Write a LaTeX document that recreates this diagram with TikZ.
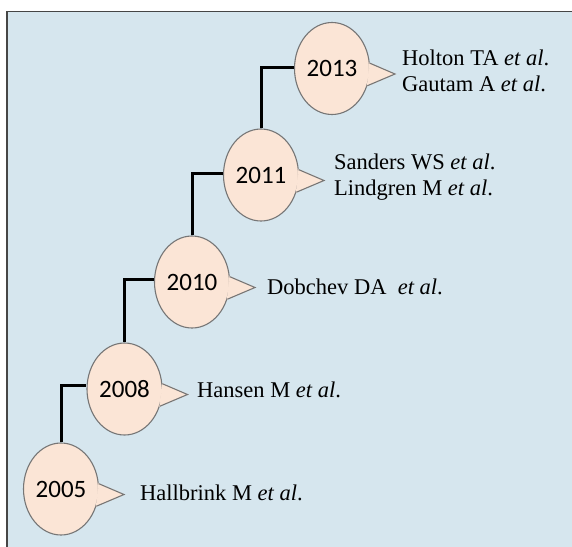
\documentclass[tikz,border=0pt]{standalone}
\usepackage{fontspec}
\setmainfont{Liberation Serif}
\newfontfamily\yearfont{Carlito}
\usetikzlibrary{shapes.geometric,calc}
\definecolor{bgblue}{RGB}{214,230,238}
\definecolor{peach}{RGB}{251,229,214}
\definecolor{rimgray}{RGB}{118,118,118}
\definecolor{framegray}{RGB}{70,70,70}
\tikzset{
  bubble/.style={ellipse, draw=rimgray, line width=1.1pt, fill=peach,
    minimum width=75pt, minimum height=92pt, inner sep=0pt,
    font=\yearfont\fontsize{25}{25}\selectfont},
  conn/.style={line width=3pt, black},
  reftext/.style={anchor=west, align=left, inner sep=0pt,
    font=\fontsize{22.5}{26}\selectfont},
}
\newcommand{\tail}[2]{%
  \coordinate (#2) at ($(#1.center)+(63,5.5)$);
  \fill[peach, draw=peach, line width=0.9pt] (#1.8) -- (#2) -- (#1.-26) -- cycle;
  \draw[rimgray, line width=1.1pt, line join=miter] (#1.8) -- (#2) -- (#1.-26);
}
\begin{document}
\begin{tikzpicture}[x=1pt,y=-1pt]
\useasboundingbox (0,0) rectangle (572,546);
\fill[white] (0,0) rectangle (572,546);
\draw[framegray, line width=1.6pt, fill=bgblue] (7,11.5) rectangle (590,560);

\node[bubble] (b2013) at (332,68.5) {2013};
\node[bubble] (b2011) at (261,175) {2011};
\node[bubble] (b2010) at (192,282) {2010};
\node[bubble] (b2008) at (124.5,389) {2008};
\node[bubble] (b2005) at (61,489) {2005};

\draw[conn] (b2011.north) |- ([yshift=1pt]b2013.west);
\draw[conn] (b2010.north) |- ([yshift=1.5pt]b2011.west);
\draw[conn] (b2008.north) |- ([yshift=2.5pt]b2010.west);
\draw[conn] (b2005.north) |- ([yshift=4pt]b2008.west);

\tail{b2013}{t2013}
\tail{b2011}{t2011}
\tail{b2010}{t2010}
\tail{b2008}{t2008}
\tail{b2005}{t2005}

\node[reftext] (r2013) at (402,70.5) {Holton TA \textit{et al}.\\Gautam A \textit{et al}.};
\node[reftext] (r2011) at (334,177.5) {Sanders WS \textit{et al}.\\Lindgren M \textit{et al}.};
\node[reftext] (r2010) at (267,287) {Dobchev DA\ \ \textit{et al}.};
\node[reftext] (r2008) at (197,390) {Hansen M \textit{et al}.};
\node[reftext] (r2005) at (140,493) {Hallbrink M \textit{et al}.};
\end{tikzpicture}
\end{document}
